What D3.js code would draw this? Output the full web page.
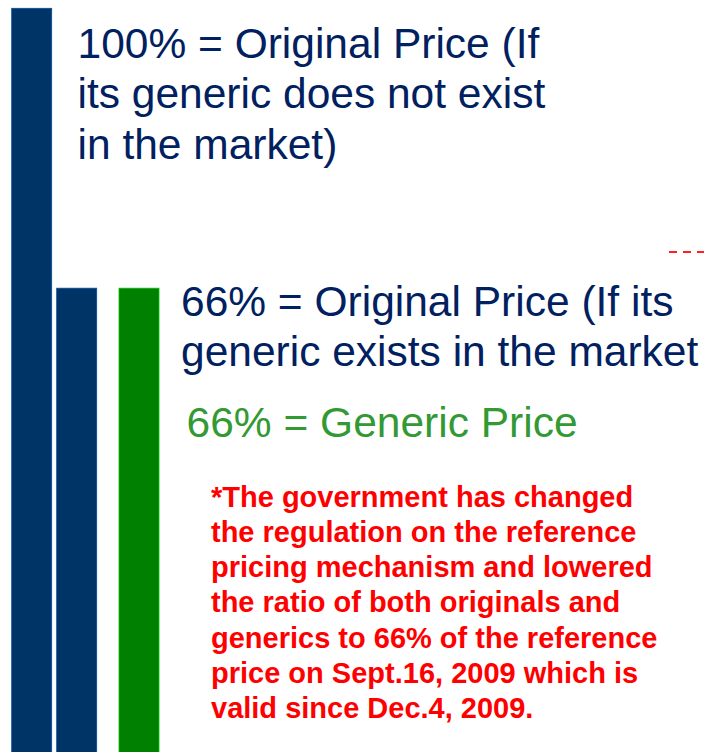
<!DOCTYPE html>
<html>
<head>
<meta charset="utf-8">
<script src="https://cdn.jsdelivr.net/npm/d3@7"></script>
<style>
  html, body { margin: 0; padding: 0; background: #fff; }
  svg { display: block; }
  text { font-family: "Liberation Sans", Arial, sans-serif; }
</style>
</head>
<body>
<svg id="chart" width="704" height="752"></svg>
<script>
// ---- data ----
const categories = ["Original (no generic)", "Original (generic exists)", "Generic"];
const groups = ["Original", "Generic"];
const barGroup = ["Original", "Original", "Generic"];
const barIndexInGroup = [0, 1, 0];
const values = [100, 66, 66];
const barColors = ["#003366", "#003366", "#008000"];
const referenceLineValue = 70.4;

const label100 = ["100% = Original Price (If", "its generic does not exist", "in the market)"];
const label66Original = ["66% = Original Price (If its", "generic exists in the market"];
const label66Generic = ["66% = Generic Price"];
const noteLines = [
  "*The government has changed",
  "the regulation on the reference",
  "pricing mechanism and lowered",
  "the ratio of both originals and",
  "generics to 66% of the reference",
  "price on Sept.16, 2009 which is",
  "valid since Dec.4, 2009."
];

// ---- layout ----
const svg = d3.select("#chart");
const W = 704, H = 752;

const y = d3.scaleLinear().domain([0, 100]).range([831.5, 8.3]);

const outer = d3.scaleBand().domain(groups).range([11.7, 204]).paddingInner(0.2078).paddingOuter(0);
const inner = d3.scaleBand().domain([0, 1]).range([0, outer.bandwidth()]).paddingInner(0.111);

const bars = categories.map((c, i) => ({
  cat: c, group: barGroup[i], idx: barIndexInGroup[i], value: values[i], color: barColors[i]
}));

svg.append("g").selectAll("rect")
  .data(bars)
  .join("rect")
  .attr("x", d => outer(d.group) + inner(d.idx))
  .attr("y", d => y(d.value))
  .attr("width", inner.bandwidth())
  .attr("height", d => y(0) - y(d.value))
  .attr("fill", d => d.color)
  .attr("stroke", d => d3.color(d.color).brighter(1.2))
  .attr("stroke-width", 0.8);

// dashed reference line (partially visible at right edge)
svg.append("line")
  .attr("x1", 669).attr("x2", W + 10)
  .attr("y1", y(referenceLineValue)).attr("y2", y(referenceLineValue))
  .attr("stroke", "#ff2020")
  .attr("stroke-width", 2)
  .attr("stroke-dasharray", "8,6");

// ---- labels ----
function block(lines, x, y0, dy, size, color, weight) {
  svg.append("g").selectAll("text")
    .data(lines)
    .join("text")
    .attr("x", x)
    .attr("y", (d, i) => y0 + i * dy)
    .attr("font-size", size)
    .attr("font-weight", weight || "normal")
    .attr("fill", color)
    .text(d => d);
}

block(label100, 77.5, 57.7, 50.7, 42.5, "#002060");
block(label66Original, 181, 315.7, 50.5, 42.5, "#002060");
block(label66Generic, 186.6, 436.7, 50, 42.5, "#339933");
block(noteLines, 211, 506.7, 35.2, 29, "#ff0000", "bold");
</script>
</body>
</html>
